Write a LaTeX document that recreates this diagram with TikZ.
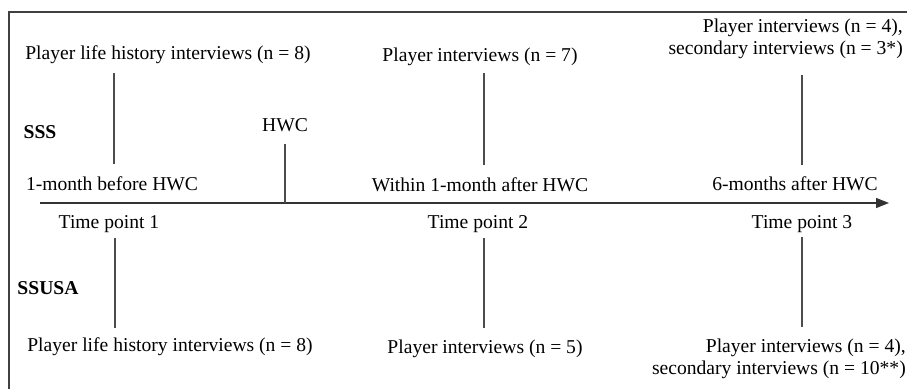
\documentclass[tikz,border=0pt]{standalone}
\usepackage{fontspec}
\setmainfont{Liberation Serif}
\usetikzlibrary{arrows.meta}
\begin{document}
\begin{tikzpicture}[x=1pt,y=-1pt,
  lbl/.style={inner sep=0pt,font=\fontsize{19.6}{22.5}\selectfont},
  grp/.style={lbl,font=\fontsize{19.6}{22.5}\selectfont\bfseries},
  vline/.style={draw=black!70,line width=1.3pt},
  frame/.style={draw=black!75,line width=1.3pt}]
\useasboundingbox (0,0) rectangle (907,388);
% frame
\draw[frame] (9,390) -- (9,12) -- (910,12);
% axis
\coordinate (ax0) at (40,203);
\coordinate (ax1) at (889,203);
\draw[line width=1.3pt,black!80,-{Triangle[length=13pt,width=10pt]}] (ax0) -- (ax1);
% group labels
\node[grp] (sss) at (40,132) {SSS};
\node[grp] (ssusa) at (48,288) {SSUSA};
% time point 1
\node[lbl] (t1top) at (168,55) {Player life history interviews (n = 8)};
\node[lbl] (t1when) at (112,184) {1-month before HWC};
\node[lbl] (t1) at (109,224) {Time point 1};
\node[lbl] (t1bot) at (170,347) {Player life history interviews (n = 8)};
\coordinate (a1) at (114,73); \coordinate (b1) at (114,164);
\coordinate (c1) at (115,238); \coordinate (d1) at (115,328);
\draw[vline] (a1) -- (b1);
\draw[vline] (c1) -- (d1);
% HWC
\node[lbl] (hwc) at (285,125) {HWC};
\coordinate (h0) at (285,144); \coordinate (h1) at (285,203);
\draw[vline] (h0) -- (h1);
% time point 2
\node[lbl] (t2top) at (480,57) {Player interviews (n = 7)};
\node[lbl] (t2when) at (480,185) {Within 1-month after HWC};
\node[lbl] (t2) at (478,224) {Time point 2};
\node[lbl] (t2bot) at (485,349) {Player interviews (n = 5)};
\coordinate (a2) at (484,73); \coordinate (b2) at (484,165);
\coordinate (c2) at (484,238); \coordinate (d2) at (484,328);
\draw[vline] (a2) -- (b2);
\draw[vline] (c2) -- (d2);
% time point 3
\node[lbl,anchor=east,align=right] (t3top) at (903,39) {Player interviews (n = 4),\\secondary interviews (n = 3*)};
\node[lbl] (t3when) at (795,184) {6-months after HWC};
\node[lbl] (t3) at (802,224) {Time point 3};
\node[lbl,anchor=east,align=right] (t3bot) at (906,359) {Player interviews (n = 4),\\secondary interviews (n = 10**)};
\coordinate (a3) at (802,75); \coordinate (b3) at (802,165);
\coordinate (c3) at (802,237); \coordinate (d3) at (802,327);
\draw[vline] (a3) -- (b3);
\draw[vline] (c3) -- (d3);
\end{tikzpicture}
\end{document}
